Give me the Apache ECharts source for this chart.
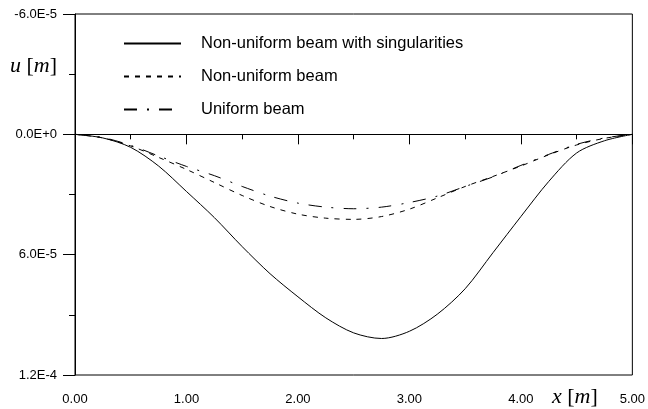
<!DOCTYPE html>
<html>
<head>
<meta charset="utf-8">
<script src="https://cdn.jsdelivr.net/npm/echarts@6/dist/echarts.min.js"></script>
<style>html,body{margin:0;padding:0;background:#fff}#c{width:648px;height:409px}</style>
</head>
<body>
<div id="c"></div>
<script>
// x positions [m]
const xs = [0, 0.25, 0.5, 0.75, 1.0, 1.25, 1.5, 1.75, 2.0, 2.25, 2.5, 2.75, 3.0, 3.25, 3.5, 3.75, 4.0, 4.25, 4.5, 4.75, 5.0];
// deflection u [m]
const singular = [0, 1.8e-6, 6.5e-6, 15.8e-6, 28.5e-6, 41.5e-6, 56e-6, 69.5e-6, 81e-6, 91.5e-6, 99e-6, 101.8e-6, 98.2e-6, 89.7e-6, 77e-6, 59e-6, 41e-6, 23.5e-6, 9.3e-6, 3.2e-6, 0];
const nonUniform = [0, 1.8e-6, 5.8e-6, 11.5e-6, 17.5e-6, 24e-6, 30.5e-6, 36e-6, 39.8e-6, 41.8e-6, 42.4e-6, 41e-6, 37.3e-6, 31.7e-6, 26e-6, 21e-6, 15.8e-6, 10.2e-6, 5.3e-6, 2e-6, 0];
const uniform = [0, 1.6e-6, 5.5e-6, 10.8e-6, 16e-6, 20.6e-6, 26e-6, 30.8e-6, 34.3e-6, 36.3e-6, 37.1e-6, 36.3e-6, 34e-6, 30.8e-6, 26e-6, 21.2e-6, 15.5e-6, 10e-6, 5e-6, 1.8e-6, 0];
const seriesNames = ['Non-uniform beam with singularities', 'Non-uniform beam', 'Uniform beam'];

const pairs = arr => xs.map((x, i) => [x, arr[i]]);
const chart = echarts.init(document.getElementById('c'), null, {renderer: 'canvas'});
const font = '"Liberation Sans", Arial, sans-serif';
const serif = '"Liberation Serif", "Times New Roman", serif';
chart.setOption({
  animation: false,
  backgroundColor: '#fff',
  grid: {left: 75, right: 12, top: 14, bottom: 34, show: true, borderColor: '#000', borderWidth: 1, backgroundColor: 'transparent'},
  xAxis: {
    type: 'value', min: 0, max: 5, interval: 1,
    axisLine: {lineStyle: {color: '#000', width: 1}},
    axisTick: {show: true, length: 10, lineStyle: {color: '#000'}},
    minorTick: {show: true, splitNumber: 2, length: 5, lineStyle: {color: '#000'}},
    splitLine: {show: false},
    axisLabel: {color: '#000', fontFamily: font, fontSize: 13, margin: 18, formatter: v => v.toFixed(2)}
  },
  yAxis: {
    type: 'value', inverse: true, min: -6e-5, max: 1.2e-4, interval: 6e-5,
    axisLine: {lineStyle: {color: '#000', width: 1}},
    axisTick: {show: true, length: 12, lineStyle: {color: '#000'}},
    minorTick: {show: true, splitNumber: 2, length: 6, lineStyle: {color: '#000'}},
    splitLine: {show: false},
    axisLabel: {color: '#000', fontFamily: font, fontSize: 13, margin: 18, formatter: v => v.toExponential(1).toUpperCase()}
  },
  legend: {
    orient: 'vertical', left: 118, top: 30,
    itemWidth: 57, itemHeight: 16, itemGap: 16,
    itemStyle: {color: 'rgba(0,0,0,0)', opacity: 0, borderWidth: 0},
    textStyle: {color: '#000', fontFamily: font, fontSize: 16.5, padding: [0, 0, 0, 15]},
    data: seriesNames
  },
  series: [
    {name: seriesNames[0], type: 'line', data: pairs(singular), symbol: 'none', smooth: 0.3,
     lineStyle: {color: '#000', width: 1, type: 'solid'}, itemStyle: {color: '#000'},
     markLine: {silent: true, symbol: ['none', 'none'], label: {show: false},
       lineStyle: {color: '#000', type: 'solid', width: 1}, data: [{yAxis: 0}]}},
    {name: seriesNames[1], type: 'line', data: pairs(nonUniform), symbol: 'none', smooth: 0.3,
     lineStyle: {color: '#000', width: 1, type: [5, 6]}, itemStyle: {color: '#000'}},
    {name: seriesNames[2], type: 'line', data: pairs(uniform), symbol: 'none', smooth: 0.3,
     lineStyle: {color: '#000', width: 1, type: [13, 10, 2, 10]}, itemStyle: {color: '#000'}}
  ],
  graphic: [
    {type: 'text', left: 10, top: 55, style: {
      text: '{i|u} [{i|m}]', fill: '#000',
      rich: {i: {fontFamily: serif, fontStyle: 'italic', fontSize: 22}},
      fontFamily: serif, fontSize: 22}},
    {type: 'text', left: 552, top: 386, style: {
      text: '{i|x} [{i|m}]', fill: '#000',
      rich: {i: {fontFamily: serif, fontStyle: 'italic', fontSize: 22}},
      fontFamily: serif, fontSize: 22}}
  ]
});
</script>
</body>
</html>
